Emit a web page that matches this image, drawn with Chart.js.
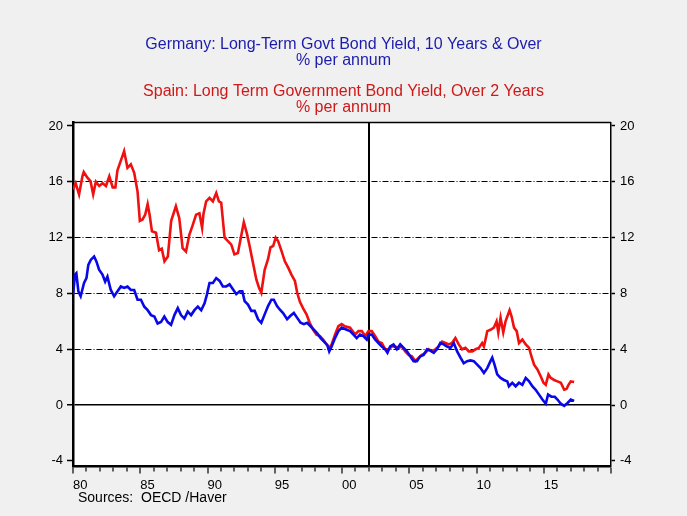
<!DOCTYPE html>
<html><head><meta charset="utf-8">
<script src="https://cdn.jsdelivr.net/npm/chart.js@4.4.1/dist/chart.umd.min.js"></script>
<style>
html,body{margin:0;padding:0;background:#f0f0f0;}
#wrap{width:687px;height:516px;position:relative;}
</style></head><body>
<div id="wrap"><canvas id="c" width="687" height="516"></canvas></div>
<script>
const germanyTitle = ['Germany: Long-Term Govt Bond Yield, 10 Years & Over', '% per annum'];
const spainTitle = ['Spain: Long Term Government Bond Yield, Over 2 Years', '% per annum'];
const sourceNote = 'Sources:  OECD /Haver';

const germanyDates = [1980.0,1980.15,1980.25,1980.4,1980.57,1980.82,1981.0,1981.14,1981.32,1981.57,1981.74,1981.94,1982.19,1982.39,1982.56,1982.81,1983.06,1983.31,1983.56,1983.8,1984.05,1984.3,1984.55,1984.8,1985.05,1985.3,1985.55,1985.8,1986.05,1986.29,1986.54,1986.79,1987.04,1987.29,1987.54,1987.79,1988.03,1988.28,1988.53,1988.78,1989.03,1989.28,1989.53,1989.78,1989.95,1990.15,1990.4,1990.65,1990.9,1991.14,1991.39,1991.64,1991.89,1992.14,1992.39,1992.59,1992.76,1993.01,1993.26,1993.51,1993.76,1994.0,1994.25,1994.5,1994.75,1994.93,1995.17,1995.37,1995.62,1995.92,1996.17,1996.42,1996.67,1996.92,1997.16,1997.41,1997.66,1997.91,1998.16,1998.41,1998.66,1998.91,1999.05,1999.23,1999.48,1999.73,1999.98,2000.35,2000.6,2000.85,2001.09,2001.34,2001.59,2001.84,2001.97,2002.21,2002.46,2002.71,2002.96,2003.21,2003.38,2003.58,2003.83,2004.08,2004.33,2004.58,2004.83,2005.07,2005.32,2005.57,2005.82,2006.07,2006.32,2006.57,2006.82,2007.06,2007.31,2007.56,2007.81,2008.06,2008.31,2008.56,2008.81,2009.05,2009.3,2009.55,2009.8,2010.05,2010.3,2010.55,2010.8,2011.04,2011.17,2011.34,2011.54,2011.79,2012.04,2012.29,2012.41,2012.66,2012.91,2013.16,2013.41,2013.66,2013.91,2014.15,2014.4,2014.65,2014.9,2015.15,2015.32,2015.57,2015.82,2016.02,2016.27,2016.52,2016.77,2017.01,2017.26];
const germanyYields = [7.9,9.35,9.45,8.15,7.8,8.75,9.1,10.05,10.4,10.65,10.3,9.7,9.35,8.85,9.2,8.25,7.8,8.15,8.5,8.4,8.5,8.25,8.25,7.55,7.55,7.05,6.8,6.45,6.35,5.85,5.95,6.35,5.95,5.75,6.45,6.95,6.45,6.2,6.7,6.45,6.8,7.05,6.8,7.3,7.9,8.75,8.75,9.1,8.9,8.5,8.5,8.65,8.3,7.95,8.15,8.15,7.45,7.2,6.75,6.75,6.15,5.9,6.5,7.1,7.55,7.55,7.1,6.85,6.6,6.15,6.4,6.6,6.25,5.9,5.8,5.9,5.65,5.4,5.15,4.8,4.55,4.3,3.85,4.2,4.8,5.3,5.55,5.4,5.3,5.05,4.8,5.05,4.95,4.7,5.05,5.05,4.7,4.45,4.2,4.0,3.75,4.2,4.35,4.0,4.35,4.1,3.85,3.5,3.15,3.15,3.5,3.6,4.0,3.9,3.75,4.0,4.45,4.35,4.2,4.1,4.45,3.85,3.4,3.0,3.15,3.2,3.15,2.9,2.65,2.3,2.65,3.15,3.4,2.9,2.2,1.95,1.8,1.7,1.35,1.6,1.35,1.6,1.45,1.95,1.7,1.35,1.1,0.75,0.4,0.1,0.75,0.6,0.6,0.4,0.1,-0.05,0.15,0.4,0.3];

const spainDates = [1980.0,1980.2,1980.45,1980.7,1980.8,1981.07,1981.3,1981.5,1981.7,1981.95,1982.2,1982.45,1982.7,1982.95,1983.15,1983.3,1983.55,1983.8,1984.05,1984.3,1984.55,1984.8,1984.97,1985.17,1985.37,1985.55,1985.7,1985.87,1986.17,1986.4,1986.6,1986.8,1987.05,1987.3,1987.65,1987.9,1988.15,1988.4,1988.65,1988.9,1989.15,1989.4,1989.6,1989.7,1989.9,1990.15,1990.4,1990.65,1990.85,1991.02,1991.27,1991.52,1991.77,1992.0,1992.26,1992.5,1992.7,1992.94,1993.13,1993.38,1993.63,1993.83,1994.0,1994.25,1994.5,1994.68,1994.88,1995.07,1995.25,1995.5,1995.75,1996.0,1996.24,1996.5,1996.67,1996.87,1997.1,1997.36,1997.6,1997.86,1998.1,1998.36,1998.6,1998.86,1999.05,1999.23,1999.48,1999.73,1999.98,2000.22,2000.6,2000.97,2001.22,2001.47,2001.72,2001.97,2002.21,2002.46,2002.71,2002.96,2003.21,2003.46,2003.71,2003.96,2004.2,2004.45,2004.7,2004.95,2005.2,2005.45,2005.7,2005.95,2006.2,2006.44,2006.69,2006.94,2007.19,2007.44,2007.69,2007.94,2008.18,2008.43,2008.68,2008.93,2009.18,2009.43,2009.68,2009.93,2010.17,2010.42,2010.55,2010.67,2010.8,2011.04,2011.29,2011.49,2011.62,2011.79,2011.99,2012.16,2012.29,2012.46,2012.61,2012.79,2012.99,2013.16,2013.41,2013.66,2013.91,2014.08,2014.28,2014.53,2014.78,2014.98,2015.15,2015.35,2015.52,2015.77,2016.02,2016.27,2016.52,2016.69,2016.84,2017.01,2017.26];
const spainYields = [15.45,15.9,15.1,16.4,16.7,16.3,16.05,15.1,16.0,15.7,15.9,15.7,16.4,15.6,15.6,16.8,17.5,18.2,17.0,17.25,16.65,15.3,13.2,13.3,13.65,14.4,13.6,12.45,12.35,11.1,11.2,10.3,10.65,13.2,14.25,13.4,11.25,11.0,12.2,12.9,13.65,13.75,12.7,13.7,14.6,14.85,14.6,15.2,14.6,14.5,12.0,11.75,11.5,10.8,10.9,12.1,13.1,12.25,11.4,10.2,9.0,8.4,8.05,9.7,10.45,11.3,11.4,12.0,11.75,11.05,10.3,9.85,9.35,8.9,8.05,7.4,6.95,6.5,5.9,5.4,5.05,4.95,4.7,4.35,4.1,4.35,5.05,5.65,5.8,5.65,5.55,5.05,5.3,5.3,4.95,5.3,5.3,4.95,4.55,4.45,4.0,4.0,4.2,4.2,4.1,4.2,3.85,3.6,3.5,3.15,3.4,3.6,3.75,4.0,3.85,4.0,4.2,4.55,4.45,4.35,4.45,4.8,4.35,4.0,4.1,3.85,3.85,4.0,4.1,4.45,4.2,4.7,5.3,5.4,5.55,6.0,5.2,6.25,5.2,6.0,6.35,6.8,6.35,5.55,5.3,4.45,4.7,4.35,4.1,3.5,2.9,2.55,2.05,1.6,1.45,2.2,1.95,1.8,1.7,1.6,1.1,1.15,1.45,1.7,1.65];

const yTickValues = [-4, 0, 4, 8, 12, 16, 20];
const xStartYear = 1980, xEndYear = 2020;
const markerYear = 2002;

const FONT = "'Liberation Sans', Arial, sans-serif";
const BLUE = '#0808e8', RED = '#f01010';

const toPoints = (xs, ys) => xs.map((x, i) => ({x: x, y: ys[i]}));
const setYTicks = scale => { scale.ticks = yTickValues.map(v => ({value: v})); };

const framePlugin = {
  id: 'frame',
  beforeDraw(chart) {
    const {ctx, chartArea: a} = chart;
    ctx.save();
    ctx.fillStyle = '#f0f0f0';
    ctx.fillRect(0, 0, chart.width, chart.height);
    ctx.fillStyle = '#ffffff';
    ctx.fillRect(a.left, a.top, a.right - a.left, a.bottom - a.top);
    ctx.restore();
  },
  afterDraw(chart) {
    const {ctx, chartArea: a} = chart;
    ctx.save();
    ctx.strokeStyle = '#000';
    ctx.lineWidth = 1.5;
    ctx.beginPath();
    ctx.moveTo(a.left, a.top);
    ctx.lineTo(a.right, a.top);
    ctx.stroke();
    ctx.fillStyle = '#000';
    ctx.font = '14px ' + FONT;
    ctx.textBaseline = 'middle';
    ctx.textAlign = 'left';
    ctx.fillText(sourceNote, a.left + 5, chart.height - 18);
    ctx.restore();
  }
};

new Chart(document.getElementById('c'), {
  type: 'line',
  data: {
    datasets: [
      {label: 'Germany', data: toPoints(germanyDates, germanyYields), borderColor: BLUE, borderWidth: 2.6, pointRadius: 0, tension: 0, fill: false, yAxisID: 'y'},
      {label: 'Spain', data: toPoints(spainDates, spainYields), borderColor: RED, borderWidth: 2.6, pointRadius: 0, tension: 0, fill: false, yAxisID: 'y'}
    ]
  },
  options: {
    responsive: false,
    animation: false,
    devicePixelRatio: 1,
    layout: {padding: 0},
    plugins: {
      legend: {display: false},
      tooltip: {enabled: false},
      title: {display: true, text: germanyTitle, color: '#1c1cac', font: {family: FONT, size: 16, weight: 'normal', lineHeight: 1}, padding: {top: 37, bottom: 0}},
      subtitle: {display: true, text: spainTitle, color: '#d01818', font: {family: FONT, size: 16, weight: 'normal', lineHeight: 1}, padding: {top: 15, bottom: 6.5}}
    },
    scales: {
      x: {
        type: 'linear', position: 'bottom', min: xStartYear, max: xEndYear,
        afterFit: s => { s.height = 49.5; },
        ticks: {
          stepSize: 1, autoSkip: false, maxRotation: 0, minRotation: 0, align: 'start', padding: 4, labelOffset: 0,
          color: '#000', font: {family: FONT, size: 13},
          callback: v => (v % 5 === 0 && v < xEndYear) ? String(v).slice(2) : ''
        },
        grid: {
          drawOnChartArea: true,
          color: c => (c.tick && c.tick.value === markerYear) ? '#000' : 'rgba(0,0,0,0)',
          lineWidth: c => (c.tick && c.tick.value === markerYear) ? 2 : 0,
          tickColor: '#000', tickWidth: 1.2, tickLength: 7,
          tickBorderDash: c => (c.tick && c.tick.value % 5 === 0) ? [] : [4, 30]
        },
        border: {display: true, color: '#000', width: 2.5}
      },
      y: {
        type: 'linear', position: 'left', min: -4.4, max: 20.25,
        afterBuildTicks: setYTicks,
        afterFit: s => { s.width = 73; },
        ticks: {color: '#000', font: {family: FONT, size: 13}, padding: 4},
        grid: {
          color: c => (c.tick && (c.tick.value === 20 || c.tick.value === -4)) ? 'rgba(0,0,0,0)' : '#000',
          lineWidth: c => (c.tick && c.tick.value === 0) ? 1.5 : 1,
          tickColor: '#000', tickWidth: 1.5, tickLength: 6
        },
        border: {display: true, color: '#000', width: 2.5,
          dash: c => (c.tick && c.tick.value !== 0) ? [6, 2, 1, 2] : []}
      },
      y2: {
        type: 'linear', position: 'right', min: -4.4, max: 20.25,
        afterBuildTicks: setYTicks,
        afterFit: s => { s.width = 76; },
        ticks: {color: '#000', font: {family: FONT, size: 13}, padding: 5},
        grid: {drawOnChartArea: false, tickColor: '#000', tickWidth: 1.5, tickLength: 4},
        border: {display: true, color: '#000', width: 1.5}
      }
    }
  },
  plugins: [framePlugin]
});
</script>
</body></html>
